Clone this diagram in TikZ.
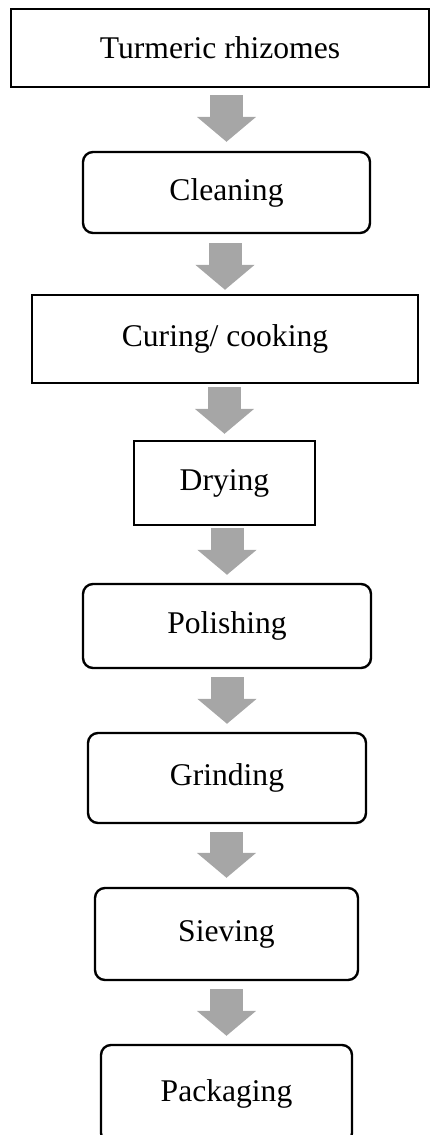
\documentclass[tikz,border=0pt]{standalone}
\usepackage{fontspec}
\setmainfont{Liberation Serif}
\usetikzlibrary{arrows.meta}
\definecolor{arrowgray}{RGB}{166,166,166}

\begin{document}
\begin{tikzpicture}[x=0.5pt, y=-0.5pt,
  stepbox/.style={draw=black, line width=1.2pt, inner sep=0pt, font=\fontsize{15.8}{19}\selectfont},
  roundbox/.style={stepbox, rounded corners=5pt},
  flow/.style={arrowgray, line width=16.5pt, -{Triangle[width=29pt, length=12.5pt]}}]
\useasboundingbox (0,0) rectangle (430,1135);
\node[stepbox, minimum width=209pt, minimum height=39pt] (rhiz) at (220,48) {Turmeric rhizomes};
\node[roundbox, minimum width=143.5pt, minimum height=40.5pt] (clean) at (226.5,192.5) {Cleaning};
\node[stepbox, minimum width=193pt, minimum height=44pt] (cure) at (225,339) {Curing/ cooking};
\node[stepbox, minimum width=90.5pt, minimum height=42pt] (dry) at (224.5,483) {Drying};
\node[roundbox, minimum width=144pt, minimum height=42pt] (polish) at (227,626) {Polishing};
\node[roundbox, minimum width=139pt, minimum height=45pt] (grind) at (227,778) {Grinding};
\node[roundbox, minimum width=131.5pt, minimum height=46pt] (sieve) at (226.5,934) {Sieving};
\node[roundbox, minimum width=125.5pt, minimum height=49pt] (pack) at (226.5,1094) {Packaging};
% grey block arrows
\draw[flow, shorten <=3.5pt, shorten >=4.5pt] (rhiz.south -| clean.north) -- (clean.north);
\draw[flow, shorten <=4.5pt, shorten >=2pt] (clean.south -| cure.north) -- (cure.north);
\draw[flow, shorten <=1.5pt, shorten >=3pt] (cure.south -| dry.north) -- (dry.north);
\draw[flow, shorten <=1pt, shorten >=4pt] (dry.south -| polish.north) -- (polish.north);
\draw[flow, shorten <=4pt, shorten >=4pt] (polish.south -| grind.north) -- (grind.north);
\draw[flow, shorten <=4pt, shorten >=4.5pt] (grind.south -| sieve.north) -- (sieve.north);
\draw[flow, shorten <=4pt, shorten >=4pt] (sieve.south -| pack.north) -- (pack.north);
\end{tikzpicture}
\end{document}
